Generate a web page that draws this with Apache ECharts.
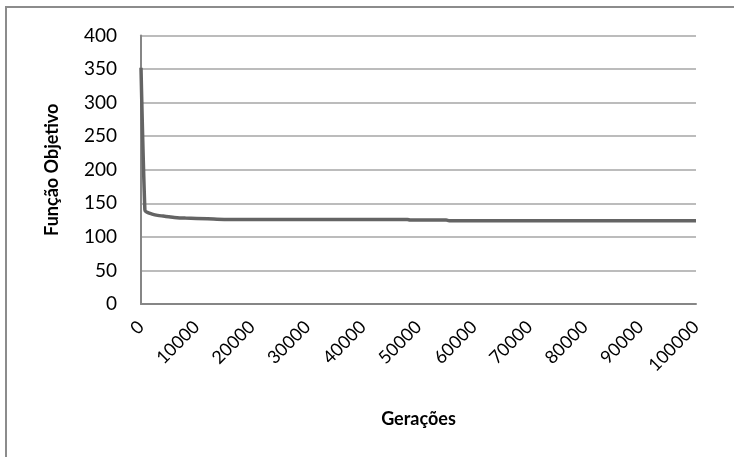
<!DOCTYPE html>
<html>
<head>
<meta charset="utf-8">
<script src="https://cdn.jsdelivr.net/npm/echarts@6/dist/echarts.min.js"></script>
<style>
  html, body { margin: 0; padding: 0; background: #fff; }
  #chart { width: 734px; height: 457px; }
</style>
</head>
<body>
<div id="chart"></div>
<script>
// gerações x função objetivo
const geracoes = [0, 700, 1000, 2000, 3000, 4000, 5000, 6000, 8000, 12000, 15000, 30000, 48000, 48500, 55000, 55500, 100000]
const funcaoObjetivo = [352, 140, 137, 134, 132, 131, 130, 129, 128, 127, 126, 126, 126, 125, 125, 124, 124]
const yTicks = [0, 50, 100, 150, 200, 250, 300, 350, 400]
const xTicks = [0, 10000, 20000, 30000, 40000, 50000, 60000, 70000, 80000, 90000, 100000]

const fonte = 'Lato, "Open Sans", sans-serif'

let myChart = echarts.init(document.getElementById('chart'))
let option = {
  animation: false,
  graphic: [
    {
      // moldura externa (cortada à direita e embaixo)
      type: 'rect',
      shape: { x: 6, y: 7, width: 900, height: 600 },
      style: { fill: 'none', stroke: '#8c8c8c', lineWidth: 2 }
    }
  ],
  grid: {
    left: 141,
    right: 38,
    top: 35.5,
    bottom: 153
  },
  xAxis: {
    type: 'value',
    min: xTicks[0],
    max: xTicks[xTicks.length - 1],
    interval: 10000,
    name: 'Gerações',
    nameLocation: 'middle',
    nameGap: 106,
    nameTextStyle: { color: '#000', fontWeight: 'bold', fontSize: 18, fontFamily: fonte },
    axisLine: { show: true, lineStyle: { color: '#868686', width: 2 } },
    axisTick: { show: false },
    splitLine: { show: false },
    axisLabel: {
      color: '#000', fontSize: 18, fontFamily: fonte, rotate: 45, margin: 20,
      formatter: v => String(v)
    }
  },
  yAxis: {
    type: 'value',
    min: yTicks[0],
    max: yTicks[yTicks.length - 1],
    interval: 50,
    name: 'Função Objetivo',
    nameLocation: 'middle',
    nameGap: 80,
    nameTextStyle: { color: '#000', fontWeight: 'bold', fontSize: 18, fontFamily: fonte },
    axisLine: { show: true, lineStyle: { color: '#868686', width: 2 } },
    axisTick: { show: false },
    splitLine: { lineStyle: { color: '#a6a6a6', width: 1.5 } },
    axisLabel: { color: '#000', fontSize: 19, fontFamily: fonte, margin: 24 }
  },
  series: [
    {
      type: 'line',
      data: geracoes.map((g, i) => [g, funcaoObjetivo[i]]),
      showSymbol: false,
      smooth: 0.3,
      lineStyle: { color: '#646464', width: 3.5 }
    }
  ]
}
myChart.setOption(option, true)
</script>
</body>
</html>
